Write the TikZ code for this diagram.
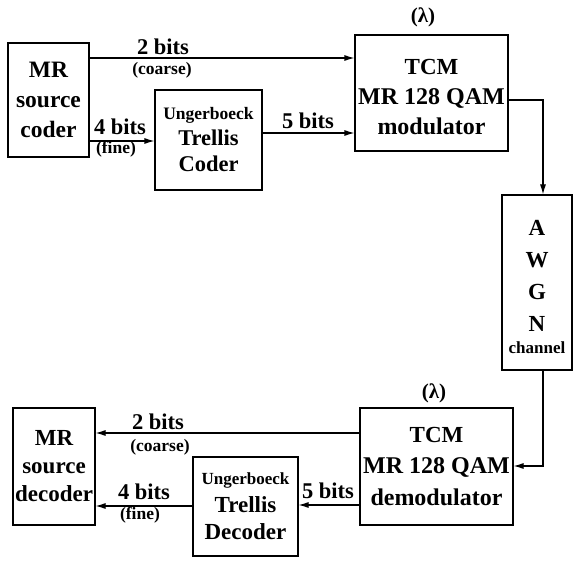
\documentclass[tikz,border=0pt]{standalone}
\usepackage{fontspec}
\setmainfont{Liberation Serif}
\usetikzlibrary{arrows.meta}
\begin{document}
\begin{tikzpicture}[x=1pt,y=-1pt,
  box/.style={draw,line width=1.1pt,rectangle,inner sep=0pt,align=center},
  conn/.style={line width=1.1pt},
  arr/.style={conn,-{Latex[length=10pt,width=6pt]}},
  big/.style={font=\bfseries\fontsize{22.5}{26}\selectfont,inner sep=0pt},
  small/.style={font=\bfseries\fontsize{17.5}{20}\selectfont,inner sep=0pt},
  lam/.style={font=\bfseries\fontsize{21}{24}\selectfont,inner sep=0pt}]
\useasboundingbox (0,0) rectangle (573,561);
% boxes
\node[box,minimum width=81pt,minimum height=114pt,font=\bfseries\fontsize{23.5}{30}\selectfont]
  (src) at (48.5,100) {MR\\source\\coder};
\node[box,minimum width=107pt,minimum height=100pt,font=\bfseries\fontsize{22.5}{26}\selectfont]
  (tcoder) at (208.5,140) {\fontsize{17.5}{20}\selectfont Ungerboeck\\Trellis\\Coder};
\node[box,minimum width=153pt,minimum height=116pt,font=\bfseries\fontsize{24}{30}\selectfont]
  (mod) at (431.5,93) {\fontsize{23}{26}\selectfont\rule{0pt}{24pt}TCM\\MR 128 QAM\\modulator};
\node[box,minimum width=70pt,minimum height=175pt,font=\bfseries\fontsize{23}{32}\selectfont]
  (awgn) at (537,282.5) {\rule{0pt}{25pt}A\\W\\G\\N\\[-10pt]\fontsize{17}{20}\selectfont channel};
\node[box,minimum width=153pt,minimum height=117pt,font=\bfseries\fontsize{24}{31.5}\selectfont]
  (demod) at (436.5,466.5) {\fontsize{23}{26}\selectfont TCM\\MR 128 QAM\\demodulator};
\node[box,minimum width=105pt,minimum height=99pt,font=\bfseries\fontsize{23}{27.5}\selectfont]
  (tdec) at (245.5,506.5) {\fontsize{17}{20}\selectfont Ungerboeck\\Trellis\\Decoder};
\node[box,minimum width=82pt,minimum height=117pt,font=\bfseries\fontsize{23}{28}\selectfont]
  (dec) at (54,466.5) {MR\\source\\decoder};
% top connectors
\draw[arr] (src.east |- 0,58) -- (mod.west |- 0,58);
\draw[arr] (src.east |- 0,141) -- (tcoder.west |- 0,141);
\draw[arr] (tcoder.east |- 0,133) -- (mod.west |- 0,133);
\coordinate (c1) at (543,100);
\draw[arr] (mod.east |- c1) -- (c1) -- (c1 |- awgn.north);
\coordinate (c2) at (543,466);
\draw[arr] (c2 |- awgn.south) -- (c2) -- (demod.east |- c2);
% bottom connectors
\draw[arr] (demod.west |- 0,433) -- (dec.east |- 0,433);
\draw[arr] (demod.west |- 0,505) -- (tdec.east |- 0,505);
\draw[arr] (tdec.west |- 0,506) -- (dec.east |- 0,506);
% labels
\node[big] (l1) at (163,47) {2 bits};
\node[small] (l2) at (162,70) {(coarse)};
\node[big] (l3) at (120,127) {4 bits};
\node[small] (l4) at (116,149) {(fine)};
\node[big] (l5) at (308,121) {5 bits};
\node[lam] (l6) at (423,17) {(λ)};
\node[big] (l7) at (158,422) {2 bits};
\node[small] (l8) at (160,447) {(coarse)};
\node[big] (l9) at (144,492) {4 bits};
\node[small] (l10) at (140,515) {(fine)};
\node[big] (l11) at (328,491) {5 bits};
\node[lam] (l12) at (434,393) {(λ)};
\end{tikzpicture}
\end{document}
